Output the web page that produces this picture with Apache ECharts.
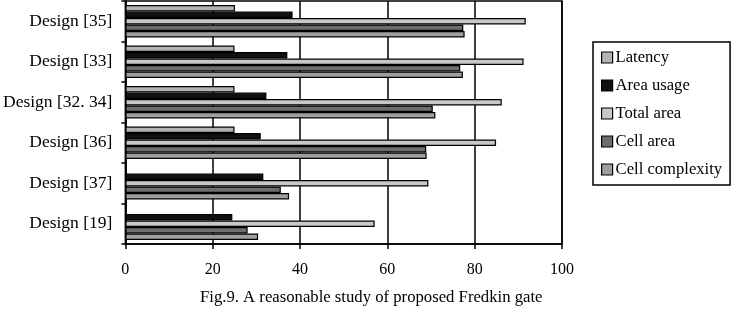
<!DOCTYPE html>
<html>
<head>
<meta charset="utf-8">
<script src="https://cdn.jsdelivr.net/npm/echarts@6/dist/echarts.min.js"></script>
<style>
  html, body { margin: 0; padding: 0; background: #fff; }
  #main { width: 736px; height: 311px; }
</style>
</head>
<body>
<div id="main"></div>
<script>
// designs, top to bottom as in the figure
var designs = ['Design [35]', 'Design [33]', 'Design [32. 34]', 'Design [36]', 'Design [37]', 'Design [19]'];
// values (null = no bar)
var latency        = [25.1, 25.0, 25.0, 25.0, null, null];
var areaUsage      = [38.3, 37.1, 32.3, 31.0, 31.6, 24.5];
var totalArea      = [91.7, 91.2, 86.2, 84.9, 69.4, 57.1];
var cellArea       = [77.4, 76.7, 70.4, 68.9, 35.6, 28.0];
var cellComplexity = [77.7, 77.3, 71.0, 69.0, 37.5, 30.4];
var xTicks = [0, 20, 40, 60, 80, 100];

var font = 'Liberation Serif';

function bar(name, data, color) {
    return {
        name: name,
        type: 'bar',
        data: data,
        barGap: '0%',
        barCategoryGap: '20%',
        itemStyle: { color: color, borderColor: '#000', borderWidth: 1.2 }
    };
}

var myChart = echarts.init(document.getElementById('main'));
var option = {
    animation: false,
    textStyle: { fontFamily: font, color: '#000' },
    title: {
        text: 'Fig.9. A reasonable study of proposed Fredkin gate',
        left: 200,
        top: 289,
        padding: 0,
        textStyle: { fontFamily: font, fontSize: 16.7, fontWeight: 'normal', color: '#000' }
    },
    grid: {
        left: 125, right: 174, top: 1, bottom: 67,
        show: true, borderColor: '#000', borderWidth: 1.5, backgroundColor: '#fff'
    },
    legend: {
        orient: 'vertical',
        left: 593,
        top: 42,
        padding: [7, 8, 7, 8],
        itemGap: 11,
        itemWidth: 11,
        itemHeight: 11,
        icon: 'rect',
        borderColor: '#000',
        borderWidth: 1.5,
        itemStyle: { borderColor: '#000', borderWidth: 1.2 },
        textStyle: { fontFamily: font, fontSize: 16.6, color: '#000', padding: [0, 0, 0, -2] }
    },
    xAxis: {
        type: 'value',
        min: xTicks[0],
        max: xTicks[xTicks.length - 1],
        interval: 20,
        axisLine: { show: true, lineStyle: { color: '#000', width: 1.5 } },
        axisTick: { show: true, length: 5, lineStyle: { color: '#000', width: 1.5 } },
        axisLabel: { fontFamily: font, fontSize: 16, color: '#000', margin: 18 },
        splitLine: { show: true, lineStyle: { color: '#000', width: 1.5 } }
    },
    yAxis: {
        type: 'category',
        inverse: true,
        data: designs,
        axisLine: { show: true, lineStyle: { color: '#000', width: 1.5 } },
        axisTick: { show: true, length: 4, lineStyle: { color: '#000', width: 1.5 } },
        axisLabel: { fontFamily: font, fontSize: 17.5, color: '#000', margin: 13 }
    },
    series: [
        bar('Latency', latency, '#b3b3b3'),
        bar('Area usage', areaUsage, '#111111'),
        bar('Total area', totalArea, '#c8c8c8'),
        bar('Cell area', cellArea, '#6e6e6e'),
        bar('Cell complexity', cellComplexity, '#9f9f9f')
    ]
};
myChart.setOption(option);
window.addEventListener('resize', function () {
    myChart.resize();
});
</script>
</body>
</html>
